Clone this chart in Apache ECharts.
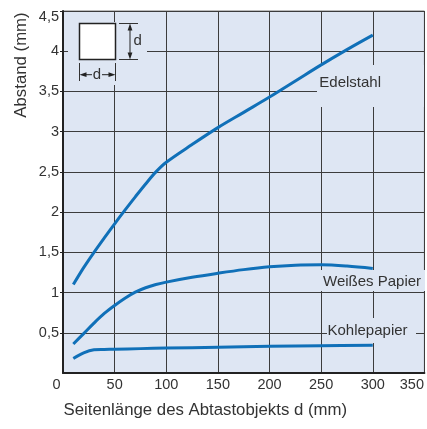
<!DOCTYPE html>
<html>
<head>
<meta charset="utf-8">
<script src="https://cdn.jsdelivr.net/npm/echarts@6/dist/echarts.min.js"></script>
<style>
  html, body { margin: 0; padding: 0; background: #ffffff; }
  #chart { width: 427px; height: 429px; }
</style>
</head>
<body>
<div id="chart"></div>
<script>
// Abstand in Abhängigkeit von der Seitenlänge des Abtastobjekts
const edelstahlX = [10, 20, 30, 40, 50, 60, 70, 80, 90, 100, 125, 150, 175, 200, 225, 250, 275, 300];
const edelstahlY = [1.10, 1.31, 1.50, 1.68, 1.855, 2.025, 2.19, 2.35, 2.50, 2.62, 2.84, 3.05, 3.24, 3.43, 3.63, 3.83, 4.02, 4.20];

const weissX = [10, 20, 30, 40, 50, 60, 70, 80, 90, 100, 125, 150, 175, 200, 225, 250, 275, 300];
const weissY = [0.36, 0.49, 0.62, 0.74, 0.84, 0.93, 1.005, 1.06, 1.10, 1.13, 1.19, 1.24, 1.285, 1.32, 1.34, 1.345, 1.33, 1.30];

const kohleX = [10, 20, 30, 40, 50, 75, 100, 150, 200, 250, 300];
const kohleY = [0.18, 0.25, 0.288, 0.293, 0.296, 0.303, 0.31, 0.32, 0.333, 0.338, 0.345];

const seriesNames = ['Edelstahl', 'Weißes Papier', 'Kohlepapier'];
const xTitle = 'Seitenlänge des Abtastobjekts d (mm)';
const yTitle = 'Abstand (mm)';

const FONT = '"Liberation Sans", Arial, sans-serif';
const BG = '#dee6f3';
const INK = '#333333';
const BLUE = '#1070b8';

function pairs(xs, ys) { return xs.map((x, i) => [x, ys[i]]); }

function lineSeries(name, xs, ys) {
  return {
    name: name,
    type: 'line',
    data: pairs(xs, ys),
    smooth: 0.35,
    showSymbol: false,
    lineStyle: { color: BLUE, width: 3, cap: 'butt', join: 'round' },
    z: 3
  };
}

const chart = echarts.init(document.getElementById('chart'), null, { renderer: 'canvas' });

const textBase = { fontFamily: FONT, fontSize: 15, fill: INK };

chart.setOption({
  animation: false,
  backgroundColor: '#ffffff',
  grid: {
    left: 63, right: 1, top: 11, bottom: 56,
    show: true,
    backgroundColor: BG,
    borderColor: '#7a7a7a',
    borderWidth: 1
  },
  xAxis: {
    type: 'value',
    min: 0, max: 350, interval: 50,
    axisLine: { show: true, onZero: false, lineStyle: { color: '#222', width: 2 } },
    axisTick: { show: false },
    splitLine: { show: true, lineStyle: { color: '#3c3c3c', width: 1 } },
    axisLabel: {
      margin: 4,
      fontFamily: FONT, fontSize: 14.5, color: INK,
      formatter: function (v) {
        if (v === 0) return '{lo|0}';
        if (v === 350) return '{hi|350}';
        return String(v);
      },
      rich: {
        lo: { fontFamily: FONT, fontSize: 14.5, color: INK, padding: [0, 13, 0, 0] },
        hi: { fontFamily: FONT, fontSize: 14.5, color: INK, padding: [0, 25, 0, 0] }
      }
    }
  },
  yAxis: {
    type: 'value',
    min: 0, max: 4.5, interval: 0.5,
    axisLine: { show: true, onZero: false, lineStyle: { color: '#222', width: 2 } },
    axisTick: { show: true, length: 3, lineStyle: { color: '#222' } },
    splitLine: { show: true, lineStyle: { color: '#3c3c3c', width: 1 } },
    axisLabel: {
      margin: 4,
      showMinLabel: false,
      fontFamily: FONT, fontSize: 14.5, color: INK,
      formatter: function (v) {
        const s = String(v).replace('.', ',');
        return v === 4.5 ? '{top|' + s + '}' : s;
      },
      rich: {
        top: { fontFamily: FONT, fontSize: 14.5, color: INK, padding: [12, 0, 0, 0] }
      }
    }
  },
  series: [
    lineSeries(seriesNames[0], edelstahlX, edelstahlY),
    lineSeries(seriesNames[1], weissX, weissY),
    lineSeries(seriesNames[2], kohleX, kohleY)
  ],
  graphic: [
    // axis titles
    { type: 'text', x: 21, y: 65, rotation: Math.PI / 2, z: 5,
      style: { text: yTitle, fontFamily: FONT, fontSize: 16.8, fill: INK, textAlign: 'center', textVerticalAlign: 'middle' } },
    { type: 'text', x: 63.5, y: 410.5, z: 5,
      style: { text: xTitle, fontFamily: FONT, fontSize: 16.8, fill: INK, textAlign: 'left', textVerticalAlign: 'middle' } },

    // inset: square of side d with dimension marks
    { type: 'rect', z: 1, shape: { x: 68, y: 22, width: 79, height: 63 }, style: { fill: BG } },
    { type: 'rect', z: 2, shape: { x: 79.5, y: 23.5, width: 36, height: 36 }, style: { fill: '#ffffff', stroke: '#222', lineWidth: 1.5 } },
    { type: 'line', z: 2, shape: { x1: 119, y1: 23.5, x2: 138, y2: 23.5 }, style: { stroke: '#333', lineWidth: 1 } },
    { type: 'line', z: 2, shape: { x1: 119, y1: 59.5, x2: 138, y2: 59.5 }, style: { stroke: '#333', lineWidth: 1 } },
    { type: 'line', z: 2, shape: { x1: 130, y1: 28, x2: 130, y2: 55 }, style: { stroke: '#222', lineWidth: 1 } },
    { type: 'polygon', z: 2, shape: { points: [[130, 23.5], [127.6, 30.5], [132.4, 30.5]] }, style: { fill: '#222' } },
    { type: 'polygon', z: 2, shape: { points: [[130, 59.5], [127.6, 52.5], [132.4, 52.5]] }, style: { fill: '#222' } },
    { type: 'text', x: 133.5, y: 41, z: 2,
      style: Object.assign({}, textBase, { text: 'd', textAlign: 'left', textVerticalAlign: 'middle' }) },
    { type: 'line', z: 2, shape: { x1: 79.5, y1: 63, x2: 79.5, y2: 81 }, style: { stroke: '#333', lineWidth: 1 } },
    { type: 'line', z: 2, shape: { x1: 115.5, y1: 63, x2: 115.5, y2: 81 }, style: { stroke: '#333', lineWidth: 1 } },
    { type: 'line', z: 2, shape: { x1: 84, y1: 74.7, x2: 92, y2: 74.7 }, style: { stroke: '#222', lineWidth: 1 } },
    { type: 'line', z: 2, shape: { x1: 102, y1: 74.7, x2: 111, y2: 74.7 }, style: { stroke: '#222', lineWidth: 1 } },
    { type: 'polygon', z: 2, shape: { points: [[79.5, 74.7], [86.5, 72.3], [86.5, 77.1]] }, style: { fill: '#222' } },
    { type: 'polygon', z: 2, shape: { points: [[115.5, 74.7], [108.5, 72.3], [108.5, 77.1]] }, style: { fill: '#222' } },
    { type: 'text', x: 97, y: 74.5, z: 2,
      style: Object.assign({}, textBase, { text: 'd', textAlign: 'center', textVerticalAlign: 'middle' }) },

    // curve labels on background-coloured plates
    { type: 'rect', z: 1, shape: { x: 317, y: 65, width: 107, height: 42 }, style: { fill: BG } },
    { type: 'text', x: 319.3, y: 82.5, z: 2,
      style: Object.assign({}, textBase, { text: seriesNames[0], textAlign: 'left', textVerticalAlign: 'middle' }) },
    { type: 'rect', z: 1, shape: { x: 321, y: 270, width: 104, height: 21 }, style: { fill: BG } },
    { type: 'text', x: 323, y: 281.5, z: 2,
      style: Object.assign({}, textBase, { text: seriesNames[1], textAlign: 'left', textVerticalAlign: 'middle' }) },
    { type: 'rect', z: 1, shape: { x: 327, y: 318, width: 89, height: 25 }, style: { fill: BG } },
    { type: 'text', x: 327.5, y: 331, z: 2,
      style: Object.assign({}, textBase, { text: seriesNames[2], textAlign: 'left', textVerticalAlign: 'middle' }) }
  ]
});
</script>
</body>
</html>
